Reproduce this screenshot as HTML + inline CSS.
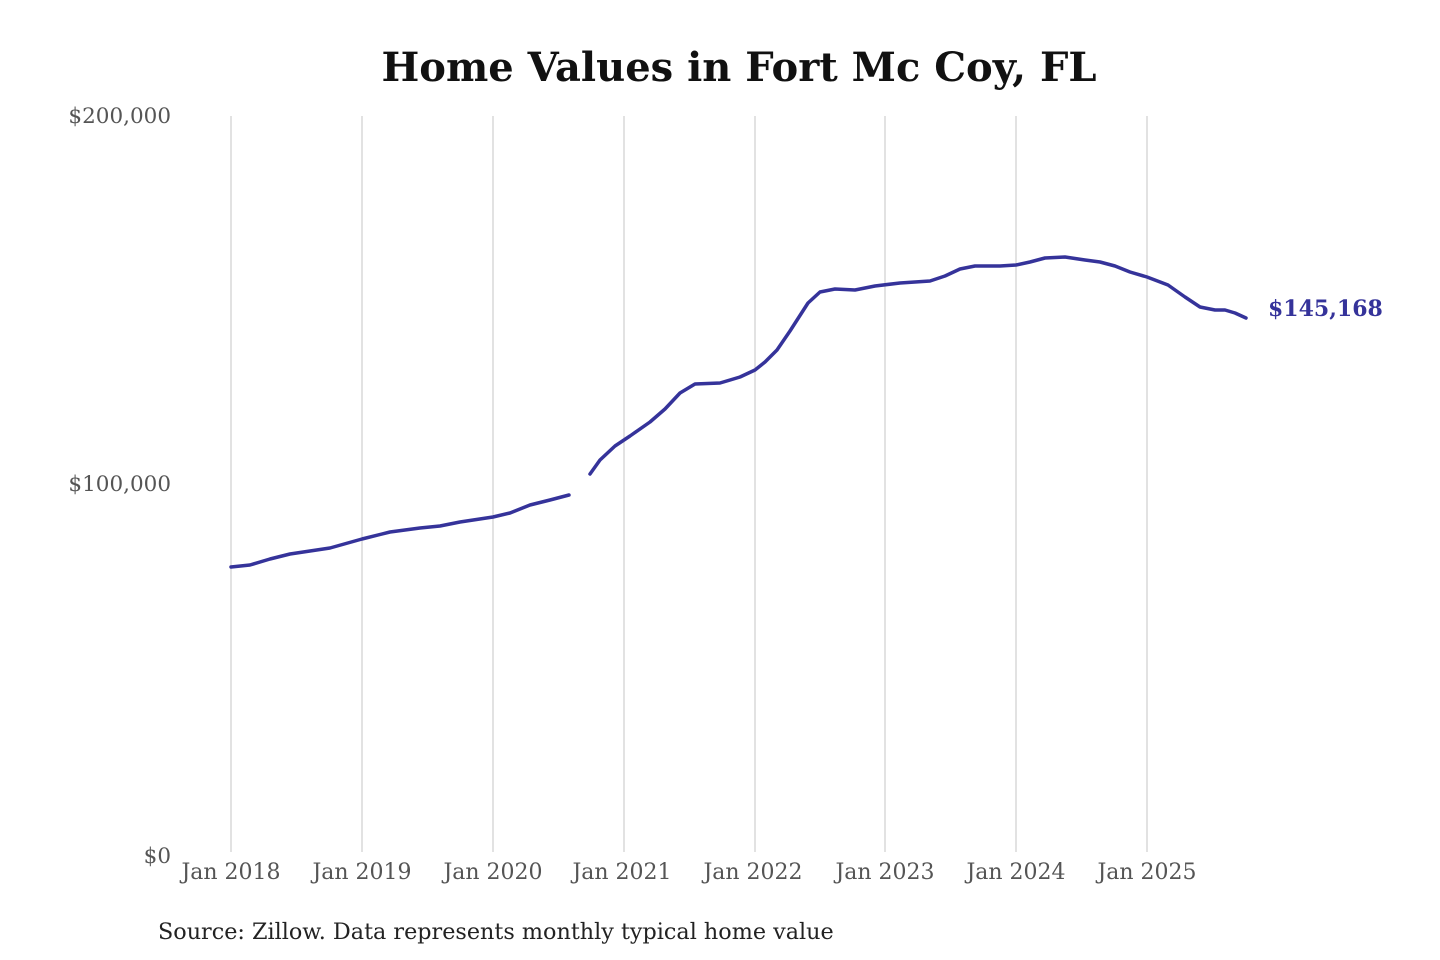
<!DOCTYPE html>
<html><head><meta charset="utf-8"><style>
html,body{margin:0;padding:0;background:#fff;width:1440px;height:960px;overflow:hidden}
text{font-family:"DejaVu Serif","Liberation Serif",serif}
</style></head><body>
<svg width="1440" height="960" viewBox="0 0 1440 960" xmlns="http://www.w3.org/2000/svg">
<text x="739" y="81" text-anchor="middle" font-size="40" font-weight="bold" fill="#111">Home Values in Fort Mc Coy, FL</text>
<g stroke="#c4c4c4" stroke-width="1">
<line x1="231" y1="116" x2="231" y2="852"/><line x1="362" y1="116" x2="362" y2="852"/>
<line x1="493" y1="116" x2="493" y2="852"/><line x1="624" y1="116" x2="624" y2="852"/>
<line x1="755" y1="116" x2="755" y2="852"/><line x1="885" y1="116" x2="885" y2="852"/>
<line x1="1016" y1="116" x2="1016" y2="852"/><line x1="1147" y1="116" x2="1147" y2="852"/>
</g>
<g font-size="21.5" fill="#555">
<text x="171" y="123" text-anchor="end">$200,000</text>
<text x="171" y="491" text-anchor="end">$100,000</text>
<text x="171" y="863" text-anchor="end">$0</text>
</g>
<g font-size="22" fill="#555" text-anchor="middle">
<text x="231" y="879">Jan 2018</text><text x="362" y="879">Jan 2019</text>
<text x="493" y="879">Jan 2020</text><text x="622" y="879">Jan 2021</text>
<text x="753" y="879">Jan 2022</text><text x="885" y="879">Jan 2023</text>
<text x="1016" y="879">Jan 2024</text><text x="1147" y="879">Jan 2025</text>
</g>
<g fill="none" stroke="#35339a" stroke-width="3.5" stroke-linejoin="round" stroke-linecap="round">
<polyline points="231,567 250,565 270,559 290,554 330,548 362,539 390,532 420,528 440,526 460,522 493,517 510,513 530,505 550,500 569,495"/>
<polyline points="590,474 600,460 615,446 630,436 650,422 665,409 680,393 695,384 720,383 740,377 755,370 765,362 777,350 790,331 808,303 820,292 835,289 855,290 875,286 900,283 930,281 945,276 960,269 975,266 1000,266 1016,265 1030,262 1045,258 1065,257 1085,260 1100,262 1115,266 1130,272 1147,277 1168,285 1185,297 1200,307 1215,310 1225,310 1235,313 1246,318"/>
</g>
<text x="1268" y="316" font-size="22" font-weight="bold" fill="#35339a">$145,168</text>
<text x="158" y="939" font-size="22.3" fill="#222">Source: Zillow. Data represents monthly typical home value</text>
</svg>
</body></html>
